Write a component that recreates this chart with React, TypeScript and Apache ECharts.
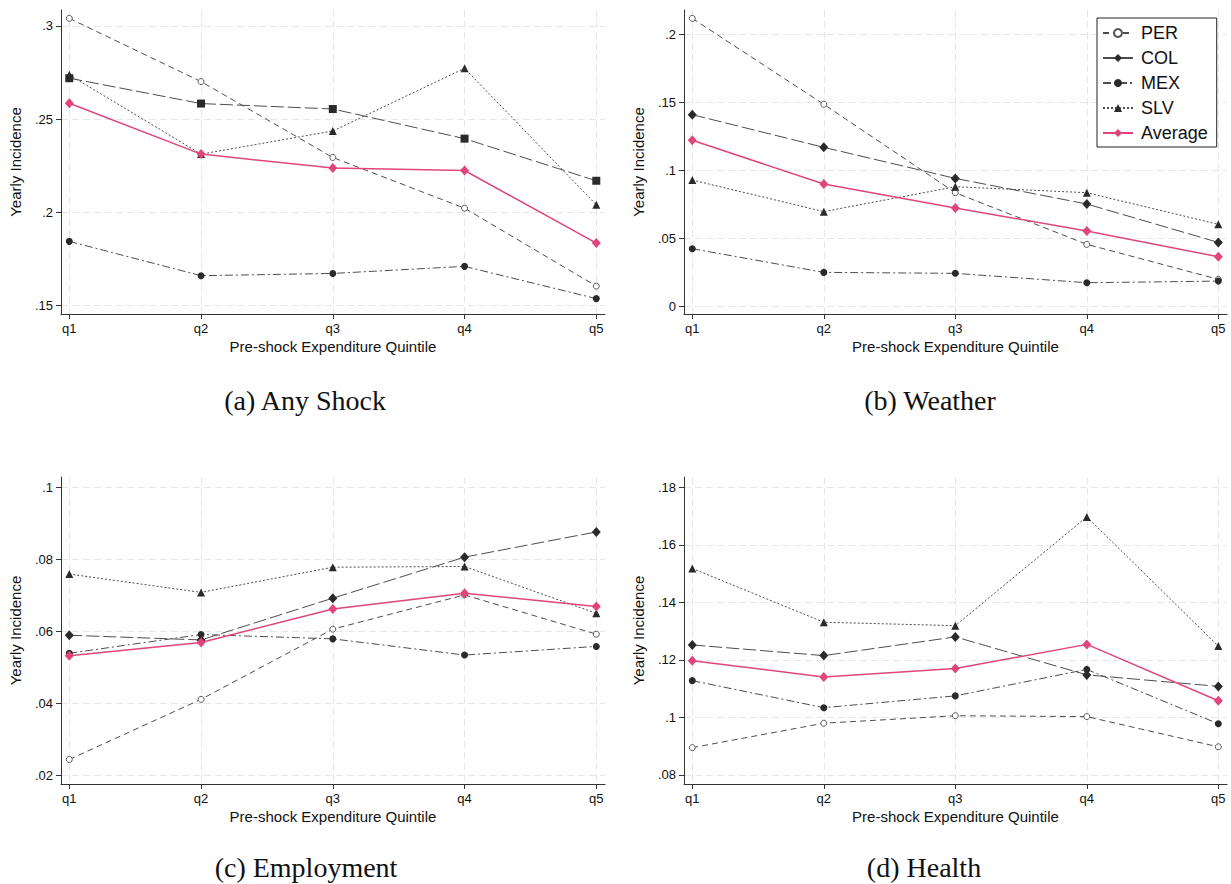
import React, { useEffect, useRef } from "react";
import * as echarts from "echarts";

// ---------- data ----------
const QUINTILES = [1, 2, 3, 4, 5];
const SERIES_NAMES = ["PER", "COL", "MEX", "SLV", "Average"];

// (a) Any Shock
const anyPER = [0.3041, 0.2702, 0.2295, 0.2023, 0.1605];
const anyCOL = [0.272, 0.2584, 0.2555, 0.2396, 0.217];
const anyMEX = [0.1845, 0.1661, 0.1673, 0.1711, 0.1538];
const anySLV = [0.2738, 0.2313, 0.2437, 0.2773, 0.2041];
const anyAVG = [0.2586, 0.2313, 0.2238, 0.2225, 0.1836];

// (b) Weather
const weaPER = [0.2117, 0.1486, 0.0837, 0.0458, 0.0201];
const weaCOL = [0.141, 0.117, 0.0942, 0.0754, 0.0472];
const weaMEX = [0.0426, 0.0252, 0.0245, 0.0176, 0.0188];
const weaSLV = [0.093, 0.0698, 0.0881, 0.0837, 0.0605];
const weaAVG = [0.1222, 0.0901, 0.0725, 0.0556, 0.0367];

// (c) Employment
const empPER = [0.0244, 0.0411, 0.0606, 0.0701, 0.0592];
const empCOL = [0.0589, 0.0576, 0.0692, 0.0806, 0.0876];
const empMEX = [0.0539, 0.0591, 0.0579, 0.0534, 0.0558];
const empSLV = [0.0759, 0.0708, 0.0778, 0.078, 0.065];
const empAVG = [0.0532, 0.0569, 0.0662, 0.0706, 0.0669];

// (d) Health
const heaPER = [0.0895, 0.098, 0.1006, 0.1003, 0.0898];
const heaCOL = [0.1252, 0.1215, 0.128, 0.1148, 0.1108];
const heaMEX = [0.1128, 0.1034, 0.1075, 0.1167, 0.0978];
const heaSLV = [0.1518, 0.1331, 0.1319, 0.1697, 0.1248];
const heaAVG = [0.1197, 0.1141, 0.117, 0.1254, 0.1058];

// tick values
const ticksA = [0.15, 0.2, 0.25, 0.3];
const ticksB = [0, 0.05, 0.1, 0.15, 0.2];
const ticksC = [0.02, 0.04, 0.06, 0.08, 0.1];
const ticksD = [0.08, 0.1, 0.12, 0.14, 0.16, 0.18];

const CAPTIONS = ["(a) Any Shock", "(b) Weather", "(c) Employment", "(d) Health"];
const X_TITLE = "Pre-shock Expenditure Quintile";
const Y_TITLE = "Yearly Incidence";

// ---------- layout / style ----------
const PINK = "#E0457B";
const DARK = "#2a2a2a";
const LINEGRAY = "#4d4d4d";
const SANS = "'Liberation Sans', Arial, Helvetica, sans-serif";
const SERIF = "'Liberation Serif', 'Times New Roman', serif";

const panels = [
  { key: "b", grid: { left: 684, top: 10, width: 543, height: 304 }, yMin: -0.00536, yMax: 0.21784, ticks: ticksB,
    data: [weaPER, weaCOL, weaMEX, weaSLV, weaAVG], colSymbol: "diamond", caption: CAPTIONS[1], capX: 930, capY: 400 },
  { key: "a", grid: { left: 61, top: 10, width: 544, height: 304 }, yMin: 0.14555, yMax: 0.30858, ticks: ticksA,
    data: [anyPER, anyCOL, anyMEX, anySLV, anyAVG], colSymbol: "rect", caption: CAPTIONS[0], capX: 305, capY: 400 },
  { key: "c", grid: { left: 61, top: 477, width: 544, height: 307 }, yMin: 0.01758, yMax: 0.10286, ticks: ticksC,
    data: [empPER, empCOL, empMEX, empSLV, empAVG], colSymbol: "diamond", caption: CAPTIONS[2], capX: 306, capY: 867 },
  { key: "d", grid: { left: 684, top: 477, width: 543, height: 307 }, yMin: 0.07687, yMax: 0.18358, ticks: ticksD,
    data: [heaPER, heaCOL, heaMEX, heaSLV, heaAVG], colSymbol: "diamond", caption: CAPTIONS[3], capX: 924, capY: 867 },
];

const X_MIN = 0.937;
const X_MAX = 5.066;

function fmtY(v: number) {
  if (Math.abs(v) < 1e-9) return "0";
  const s = String(+v.toFixed(4));
  return s.replace(/^0\./, ".").replace(/^-0\./, "-.");
}

function seriesStyle(name: string, colSymbol: string) {
  switch (name) {
    case "PER":
      return { symbol: "circle", symbolSize: 6, lineStyle: { color: LINEGRAY, width: 1, type: [6, 4] },
        itemStyle: { color: "#ffffff", borderColor: "#555", borderWidth: 1 } };
    case "COL":
      return { symbol: colSymbol, symbolSize: colSymbol === "rect" ? 8 : [9, 10], lineStyle: { color: LINEGRAY, width: 1, type: [13, 4] },
        itemStyle: { color: DARK } };
    case "MEX":
      return { symbol: "circle", symbolSize: 7, lineStyle: { color: LINEGRAY, width: 1, type: [8, 3, 2, 3] },
        itemStyle: { color: DARK } };
    case "SLV":
      return { symbol: "triangle", symbolSize: 8, lineStyle: { color: LINEGRAY, width: 1, type: [2, 2] },
        itemStyle: { color: DARK } };
    default:
      return { symbol: "diamond", symbolSize: [9, 10], lineStyle: { color: PINK, width: 1.5, type: "solid" },
        itemStyle: { color: PINK } };
  }
}

export default function App() {
  const ref = useRef<HTMLDivElement>(null);
  useEffect(() => {
    if (!ref.current) return;
    const chart = echarts.init(ref.current, undefined, { renderer: "svg" });

    const grids: any[] = [];
    const xAxes: any[] = [];
    const yAxes: any[] = [];
    const series: any[] = [];
    const graphics: any[] = [];

    panels.forEach((p, i) => {
      grids.push({ ...p.grid, containLabel: false });
      xAxes.push({
        type: "value", gridIndex: i, min: X_MIN, max: X_MAX,
        name: X_TITLE, nameLocation: "middle", nameGap: 25,
        nameTextStyle: { fontFamily: SANS, fontSize: 15, color: "#111" },
        axisLine: { show: true, onZero: false, lineStyle: { color: "#333", width: 1 } },
        axisTick: { show: true, customValues: QUINTILES, length: 5, lineStyle: { color: "#333" } },
        axisLabel: { customValues: QUINTILES, formatter: (v: number) => "q" + Math.round(v), fontFamily: SANS, fontSize: 13, color: "#111", margin: 8 },
        splitLine: { show: true, lineStyle: { color: "#e6e6e6", type: [7, 4], width: 1 } },
      });
      yAxes.push({
        type: "value", gridIndex: i, min: p.yMin, max: p.yMax,
        name: Y_TITLE, nameLocation: "middle", nameGap: 38, nameRotate: 90,
        nameTextStyle: { fontFamily: SANS, fontSize: 15, color: "#111" },
        axisLine: { show: true, onZero: false, lineStyle: { color: "#333", width: 1 } },
        axisTick: { show: true, customValues: p.ticks, length: 5, lineStyle: { color: "#333" } },
        axisLabel: { customValues: p.ticks, formatter: fmtY, fontFamily: SANS, fontSize: 13, color: "#111", margin: 8 },
        splitLine: { show: true, lineStyle: { color: "#e6e6e6", type: [7, 4], width: 1 } },
      });
      SERIES_NAMES.forEach((name, j) => {
        const st = seriesStyle(name, p.colSymbol);
        series.push({
          type: "line", name, xAxisIndex: i, yAxisIndex: i,
          data: QUINTILES.map((q, k) => [q, p.data[j][k]]),
          showAllSymbol: true, z: name === "Average" ? 4 : 3,
          ...st,
        });
      });
      graphics.push({
        type: "text", x: p.capX, y: p.capY,
        style: { text: p.caption, font: `28px ${SERIF}`, fill: "#111", textAlign: "center", textVerticalAlign: "middle" },
      });
    });

    chart.setOption({
      animation: false,
      backgroundColor: "#ffffff",
      grid: grids,
      xAxis: xAxes,
      yAxis: yAxes,
      series,
      legend: {
        data: SERIES_NAMES,
        orient: "vertical",
        left: 1097, top: 18,
        itemWidth: 30, itemHeight: 10, itemGap: 7,
        padding: [6, 9, 5, 5],
        backgroundColor: "#ffffff",
        borderColor: "#222", borderWidth: 1, borderRadius: 0,
        selectedMode: false,
        textStyle: { fontFamily: SANS, fontSize: 18, color: "#111", padding: [0, 0, 0, 3] },
      },
      graphic: graphics,
    });
    return () => chart.dispose();
  }, []);
  return <div ref={ref} style={{ position: "absolute", left: 0, top: 0, width: 1231, height: 884, background: "#fff" }} />;
}
